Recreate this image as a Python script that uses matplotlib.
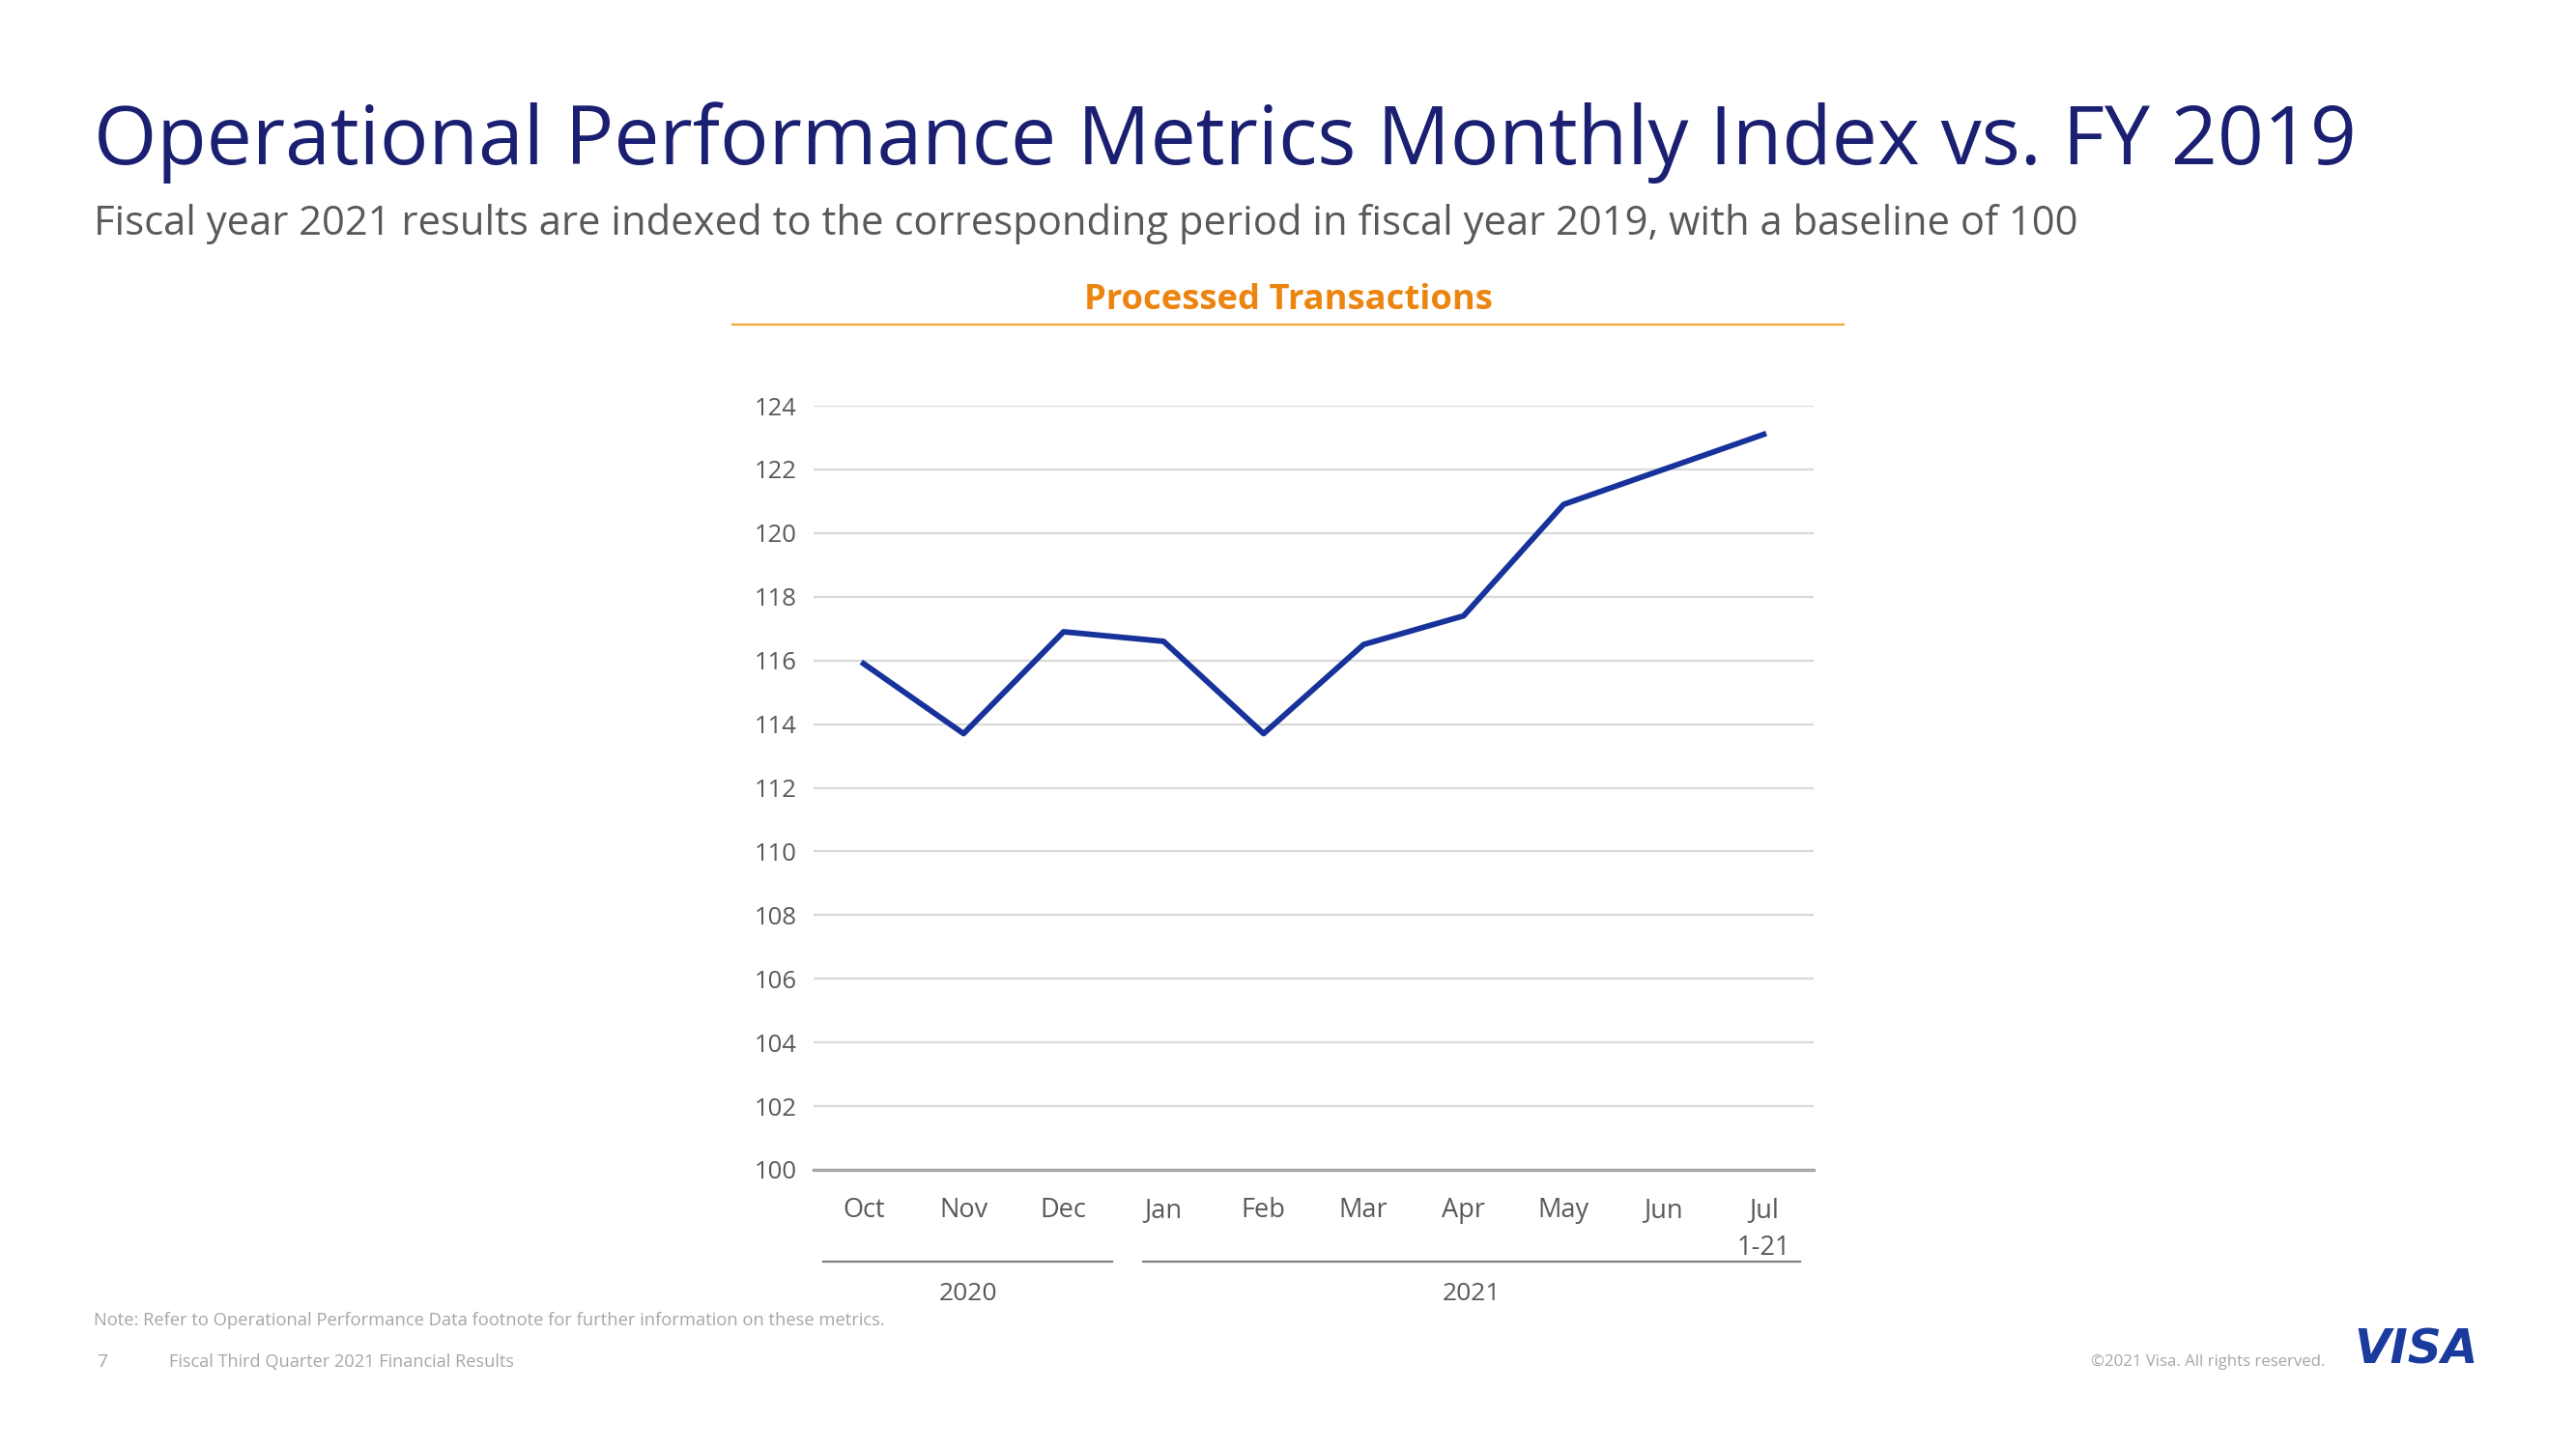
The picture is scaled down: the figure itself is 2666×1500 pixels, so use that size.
import matplotlib
matplotlib.use("Agg")
import matplotlib.pyplot as plt

# ---- data ----
months = ["Oct", "Nov", "Dec", "Jan", "Feb", "Mar", "Apr", "May", "Jun", "Jul\n1-21"]
values = [115.9, 113.7, 116.9, 116.6, 113.7, 116.5, 117.4, 120.9, 122.0, 123.1]
yticks = [100, 102, 104, 106, 108, 110, 112, 114, 116, 118, 120, 122, 124]
year_labels = ["2020", "2021"]
year_first = [0, 3]   # first month index in group
year_last = [2, 9]    # last month index in group

W, H = 2666, 1500
FONT = "Open Sans"
plt.rcParams["font.family"] = [FONT, "DejaVu Sans"]

fig = plt.figure(figsize=(W / 100, H / 100), dpi=100)
fig.patch.set_facecolor("white")


def fx(px):
    return px / W


def fy(py):
    return 1 - py / H


# titles
fig.text(fx(97), fy(170), "Operational Performance Metrics Monthly Index vs. FY 2019",
         color="#1A1F71", fontsize=60.5, va="baseline", ha="left")
fig.text(fx(97), fy(243), "Fiscal year 2021 results are indexed to the corresponding period in fiscal year 2019, with a baseline of 100",
         color="#595959", fontsize=30.1, va="baseline", ha="left")

# chart header
fig.text(fx(1333), fy(320), "Processed Transactions", color="#EC8410",
         fontsize=26.2, fontweight="bold", va="baseline", ha="center")
fig.add_artist(plt.Line2D([fx(758), fx(1908)], [fy(336), fy(336)],
                          color="#F2A33A", lw=1.6))

# axes
ax = fig.add_axes([fx(842), fy(1211), fx(1877) - fx(842), fy(420) - fy(1211)])
x = list(range(len(months)))
ax.plot(x, values, color="#17329A", lw=4.2, solid_joinstyle="round", zorder=3)
ax.set_xlim(-0.5, len(months) - 0.5)
ax.set_ylim(100, 124)
ax.set_yticks(yticks)
ax.set_yticklabels([str(v) for v in yticks])
ax.set_xticks(x)
ax.set_xticklabels(months, linespacing=1.55)
ax.yaxis.grid(True, color="#D9D9D9", lw=1.6, zorder=0)
ax.set_axisbelow(True)
for s in ["top", "right", "left"]:
    ax.spines[s].set_visible(False)
ax.spines["bottom"].set_color("#A6A6A6")
ax.spines["bottom"].set_linewidth(2.4)
ax.spines["bottom"].set_zorder(2)
ax.tick_params(axis="both", length=0, labelcolor="#595959")
ax.tick_params(axis="y", pad=12.5, labelsize=18.5)
ax.tick_params(axis="x", pad=20, labelsize=19.5)

# year group lines and labels
trans = ax.get_xaxis_transform()
for lab, a, b in zip(year_labels, year_first, year_last):
    left = a - 0.4 if a == 0 else a - 0.21
    right = b + 0.36 if b == len(months) - 1 else b + 0.49
    ax.plot([left, right], [-0.120, -0.120], color="#7F7F7F", lw=1.6,
            transform=trans, clip_on=False)
    ax.text((left + right) / 2, -0.162, lab, transform=trans, ha="center", va="center",
            fontsize=19, color="#595959")

# footer
fig.text(fx(97), fy(1367), "Note: Refer to Operational Performance Data footnote for further information on these metrics.",
         color="#A6A6A6", fontsize=13.2, va="center", ha="left")
fig.text(fx(100), fy(1410), "7", color="#A6A6A6", fontsize=14, va="center", ha="left")
fig.text(fx(175), fy(1410), "Fiscal Third Quarter 2021 Financial Results",
         color="#A6A6A6", fontsize=13.1, va="center", ha="left")
fig.text(fx(2406), fy(1410), "\u00a92021 Visa. All rights reserved.",
         color="#A6A6A6", fontsize=12.1, va="center", ha="right")
fig.text(fx(2500), fy(1397), "VISA", color="#1A3A9E", fontsize=35,
         family="DejaVu Sans", fontweight="bold", fontstyle="oblique",
         va="center", ha="center")

fig.savefig("out.png", dpi=100, facecolor="white")
